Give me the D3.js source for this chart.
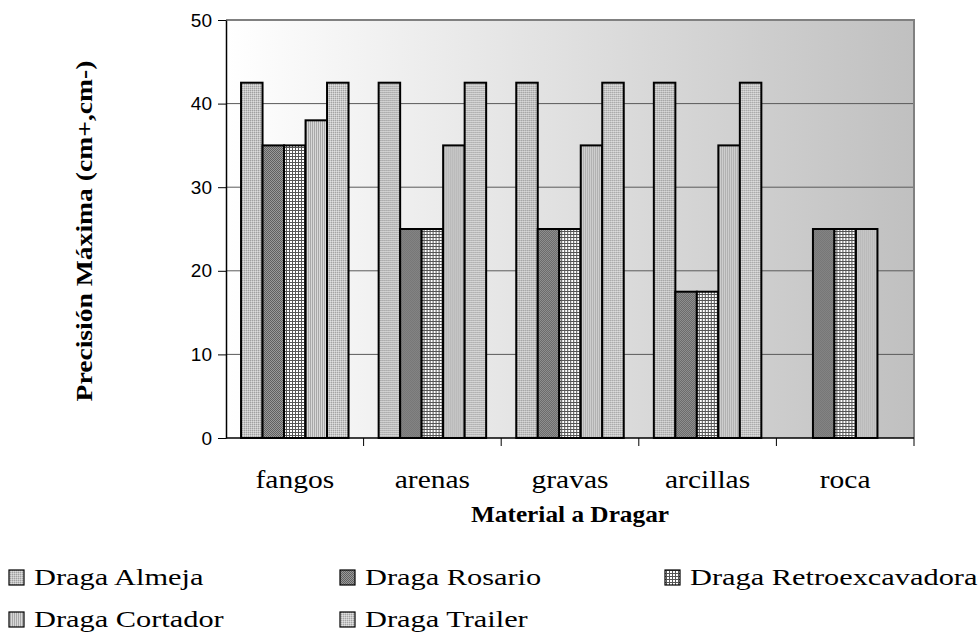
<!DOCTYPE html>
<html>
<head>
<meta charset="utf-8">
<script src="https://cdn.jsdelivr.net/npm/d3@7"></script>
<style>
  body { margin: 0; background: #fff; }
</style>
</head>
<body>
<div id="chart"></div>
<script>
const materials = ["fangos", "arenas", "gravas", "arcillas", "roca"];
const seriesNames = ["Draga Almeja", "Draga Rosario", "Draga Retroexcavadora", "Draga Cortador", "Draga Trailer"];
const almeja = [42.5, 42.5, 42.5, 42.5, 0];
const rosario = [35, 25, 25, 17.5, 25];
const retro = [35, 25, 25, 17.5, 25];
const cortador = [38, 35, 35, 35, 25];
const trailer = [42.5, 42.5, 42.5, 42.5, 0];
const yTicks = [0, 10, 20, 30, 40, 50];

const seriesValues = [almeja, rosario, retro, cortador, trailer];
const patternIds = ["p-almeja", "p-rosario", "p-retro", "p-cortador", "p-trailer"];

const W = 979, H = 637;
const plot = { left: 226, top: 20, right: 914, bottom: 438 };
const SERIF = "Liberation Serif";

// the original font is wider than Liberation Serif, stretch text to match
function widen(sel, k) {
  sel.each(function() {
    const w = this.getComputedTextLength();
    d3.select(this).attr("textLength", w * k).attr("lengthAdjust", "spacingAndGlyphs");
  });
}

const svg = d3.select("#chart").append("svg")
  .attr("width", W).attr("height", H);

const defs = svg.append("defs");

// background gradient white -> grey
const grad = defs.append("linearGradient").attr("id", "bg")
  .attr("x1", "0").attr("x2", "1").attr("y1", "0").attr("y2", "0");
grad.append("stop").attr("offset", "0").attr("stop-color", "#ffffff");
grad.append("stop").attr("offset", "1").attr("stop-color", "#c0c0c0");

// fill patterns
function pat(id, size, bg, cells) {
  const p = defs.append("pattern").attr("id", id)
    .attr("patternUnits", "userSpaceOnUse")
    .attr("width", size).attr("height", size);
  p.append("rect").attr("width", size).attr("height", size).attr("fill", bg);
  cells.forEach(c => p.append("rect")
    .attr("x", c[0]).attr("y", c[1]).attr("width", c[2]).attr("height", c[3])
    .attr("fill", c[4]));
}
pat("p-almeja", 2, "#c4c4c4", [[0,0,1,1,"#a0a0a0"],[1,1,1,1,"#dcdcdc"]]);
pat("p-rosario", 2, "#9a9a9a", [[0,0,1,1,"#606060"],[1,1,1,1,"#606060"]]);
pat("p-retro", 3, "#ffffff", [[0,0,3,1,"#555"],[0,0,1,3,"#555"]]);
pat("p-cortador", 2, "#d8d8d8", [[0,0,1,2,"#a8a8a8"]]);
pat("p-trailer", 2, "#c8c8c8", [[1,0,1,1,"#a4a4a4"],[0,1,1,1,"#e0e0e0"]]);

const x0 = d3.scaleBand().domain(materials)
  .range([plot.left, plot.right]).paddingInner(0).paddingOuter(0);
const x1 = d3.scaleBand().domain(d3.range(seriesNames.length))
  .range([0, x0.bandwidth()]).paddingInner(0).paddingOuter(0.7);
const y = d3.scaleLinear().domain([0, 50]).range([plot.bottom, plot.top]);

// plot background
svg.append("rect")
  .attr("x", plot.left).attr("y", plot.top)
  .attr("width", plot.right - plot.left).attr("height", plot.bottom - plot.top)
  .attr("fill", "url(#bg)");

// gridlines
svg.append("g").selectAll("line")
  .data(yTicks.filter(d => d > 0 && d < 50))
  .join("line")
  .attr("x1", plot.left).attr("x2", plot.right)
  .attr("y1", d => y(d)).attr("y2", d => y(d))
  .attr("stroke", "#5a5a5a").attr("stroke-width", 1);

// frame top / right
svg.append("path")
  .attr("d", `M${plot.left},${plot.top}H${plot.right}V${plot.bottom}`)
  .attr("fill", "none").attr("stroke", "#808080").attr("stroke-width", 2);

// bars
materials.forEach((m, i) => {
  const g = svg.append("g").attr("transform", `translate(${x0(m)},0)`);
  seriesValues.forEach((vals, s) => {
    const v = vals[i];
    if (!v) return;
    g.append("rect")
      .attr("x", x1(s)).attr("y", y(v))
      .attr("width", x1.bandwidth()).attr("height", y(0) - y(v))
      .attr("fill", `url(#${patternIds[s]})`)
      .attr("stroke", "#000").attr("stroke-width", 2);
  });
});

// y axis
const yAxis = svg.append("g")
  .attr("transform", `translate(${plot.left},0)`)
  .call(d3.axisLeft(y).tickValues(yTicks).tickSize(8).tickPadding(6).tickSizeOuter(0))
  .attr("font-family", "Liberation Sans")
  .attr("font-size", 19);
yAxis.select(".domain").attr("stroke", "#000").attr("stroke-width", 1.5);
yAxis.selectAll(".tick line").attr("stroke", "#000");

// x axis: ticks at category boundaries
const xAxis = svg.append("g").attr("transform", `translate(0,${plot.bottom})`);
xAxis.append("line")
  .attr("x1", plot.left).attr("x2", plot.right)
  .attr("stroke", "#000").attr("stroke-width", 1.5);
xAxis.selectAll(".xt")
  .data(materials.slice(1).concat(["__end"]))
  .join("line").attr("class", "xt")
  .attr("x1", d => d === "__end" ? plot.right : x0(d))
  .attr("x2", d => d === "__end" ? plot.right : x0(d))
  .attr("y1", 0).attr("y2", 8)
  .attr("stroke", "#000");
xAxis.selectAll(".xl")
  .data(materials)
  .join("text").attr("class", "xl")
  .attr("x", d => x0(d) + x0.bandwidth() / 2)
  .attr("y", 50)
  .attr("text-anchor", "middle")
  .attr("font-family", SERIF)
  .attr("font-size", 25)
  .text(d => d)
  .call(widen, 1.18);

// axis titles
svg.append("text")
  .attr("x", (plot.left + plot.right) / 2)
  .attr("y", 522)
  .attr("text-anchor", "middle")
  .attr("font-family", SERIF)
  .attr("font-size", 23)
  .attr("font-weight", "bold")
  .text("Material a Dragar")
  .call(widen, 1.1);

svg.append("text")
  .attr("transform", `translate(92,231) rotate(-90)`)
  .attr("text-anchor", "middle")
  .attr("font-family", SERIF)
  .attr("font-size", 24)
  .attr("font-weight", "bold")
  .text("Precisión Máxima (cm+,cm-)")
  .call(widen, 1.15);

// legend
const legendPos = [[9, 585], [340, 585], [665, 585], [9, 627], [340, 627]];
const legend = svg.append("g");
seriesNames.forEach((name, s) => {
  const [lx, ly] = legendPos[s];
  legend.append("rect")
    .attr("x", lx).attr("y", ly - 15)
    .attr("width", 15).attr("height", 15)
    .attr("fill", `url(#${patternIds[s]})`)
    .attr("stroke", "#000").attr("stroke-width", 1.2);
  legend.append("text")
    .attr("x", lx + 25).attr("y", ly)
    .attr("font-family", SERIF)
    .attr("font-size", 23)
    .text(name)
    .call(widen, 1.32);
});
</script>
</body>
</html>
